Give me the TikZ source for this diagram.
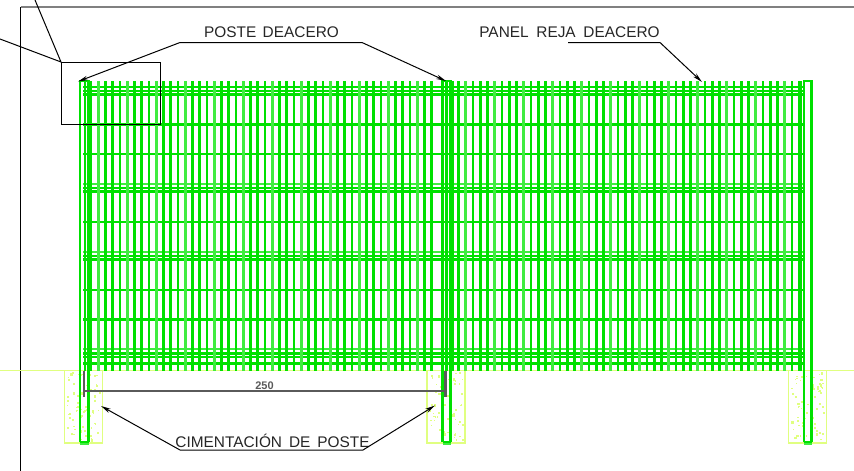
\documentclass[tikz,border=0pt]{standalone}
\usepackage{fontspec}
\setmainfont{Liberation Sans}
\usetikzlibrary{arrows.meta}
\definecolor{barg}{HTML}{00E000}
\definecolor{paleg}{HTML}{40EC40}
\definecolor{conc}{HTML}{E0FF80}
\definecolor{dimg}{HTML}{5A5A5A}
\tikzset{
  bar/.style={barg,line width=2.6pt},
  barlite/.style={paleg,line width=3pt},
  rail/.style={barg,line width=2.4pt},
  railthick/.style={paleg,line width=2.6pt},
  leader/.style={black,line width=1pt},
  pointer/.style={leader,-{Stealth[length=10pt,width=4.5pt]}},
  concrete/.style={conc,line width=1.5pt},
  caption/.style={font=\fontsize{15.4}{17}\selectfont,text=black!85,inner sep=0pt,anchor=center},
  dimline/.style={dimg,line width=2.2pt}
}
\begin{document}
\begin{tikzpicture}[x=1pt,y=-1pt]
\useasboundingbox (0,0) rectangle (854,471);
\fill[white] (0,0) rectangle (854,471);
% frame
\draw[gray,line width=1.3pt] (20.5,7) -- (854,7);
\draw[black,line width=1pt] (20.5,7) -- (20.5,471);
% ground and concrete
\draw[conc,line width=1.4pt] (0,370.5) -- (854,370.5);
\pgfmathsetseed{4242}
\foreach \xa/\xb in {64.5/102.5,427/465,788.5/826.5}{
  \draw[concrete] (\xa,370.5) rectangle (\xb,443);
  \foreach \i in {1,...,70}{
    \pgfmathsetmacro{\dx}{\xa+2+rnd*(\xb-\xa-5)}
    \pgfmathsetmacro{\dy}{372+rnd*68}
    \pgfmathsetmacro{\ds}{1+rnd*1.4}
    \fill[conc] (\dx,\dy) rectangle ++(\ds,\ds);
  }
}
% rails
\foreach \y in {87,91,94.5,124.5,154,188,191.5,222,256,259.5,290,319.5,353.5,357,363.5}{
  \draw[rail] (83,\y) -- (803,\y);
}
\foreach \y in {184,252,349}{
  \draw[railthick] (83,\y) -- (803,\y);
}
% bars
\foreach \k in {0,...,47}{
  \pgfmathsetmacro{\x}{91+7.25*\k}
  \pgfmathtruncatemacro{\m}{mod(\k,4)}
  \ifnum\m=1 \draw[barlite] (\x,81) -- (\x,371); \else \draw[bar] (\x,81) -- (\x,371); \fi
}
\foreach \k in {0,...,47}{
  \pgfmathsetmacro{\x}{458.5+7.25*\k}
  \pgfmathtruncatemacro{\m}{mod(\k,4)}
  \ifnum\m=1 \draw[barlite] (\x,81) -- (\x,371); \else \draw[bar] (\x,81) -- (\x,371); \fi
}
\draw[bar] (85,81) -- (85,371);
\draw[bar] (453,81) -- (453,371);
\draw[bar] (801,81) -- (801,371);
% posts
\foreach \xa/\xb in {80/88.5,442.5/450.5,804/811.5}{
  \draw[barg,line width=2.8pt] (\xa,442) -- (\xa,81) -- (\xb,81) -- (\xb,442);
  \draw[barg,line width=2pt] (\xa,442) -- (\xb,442);
  \draw[paleg,line width=2pt] (\xa,444) -- (\xb,444);
}
\draw[bar] (446.5,81) -- (446.5,371);
% dimension
\coordinate (dl) at (84,391);
\coordinate (dr) at (445.5,391);
\draw[dimline] (dl) -- (dr);
\draw[dimline] (84,371) -- (84,397);
\draw[dimline] (445.5,371) -- (445.5,397);
\node[font=\bfseries\fontsize{11}{12}\selectfont,text=dimg,inner sep=0pt] (dimtext) at (264.5,385.5) {250};
% detail box and its leaders
\draw[leader] (61,62) rectangle (160.5,124.5);
\coordinate (boxc) at (61,62);
\coordinate (fa) at (35,0);
\coordinate (fb) at (0,39);
\draw[leader] (fa) -- (boxc) -- (fb);
% labels
\node[caption] (poste) at (271.5,32) {POSTE\hspace{0.42em}DEACERO};
\node[caption] (panel) at (569.5,32) {PANEL\hspace{0.5em}REJA\hspace{0.5em}DEACERO};
\node[caption] (cim) at (272.5,441) {CIMENTACIÓN\hspace{0.45em}DE\hspace{0.45em}POSTE};
% leaders
\coordinate (pa) at (180,42.5);
\coordinate (pb) at (362,42.5);
\coordinate (pc) at (78,81.5);
\coordinate (pd) at (446,81);
\draw[pointer] (pa) -- (pc);
\draw[pointer] (pa) -- (pb) -- (pd);
\coordinate (qa) at (568,42.5);
\coordinate (qb) at (660,42.5);
\coordinate (qc) at (702,82);
\draw[pointer] (qa) -- (qb) -- (qc);
\coordinate (ra) at (180,450);
\coordinate (rb) at (363,450);
\coordinate (rc) at (101,406);
\coordinate (rd) at (435,405.5);
\draw[pointer] (ra) -- (rc);
\draw[pointer] (ra) -- (rb) -- (rd);
\end{tikzpicture}
\end{document}
